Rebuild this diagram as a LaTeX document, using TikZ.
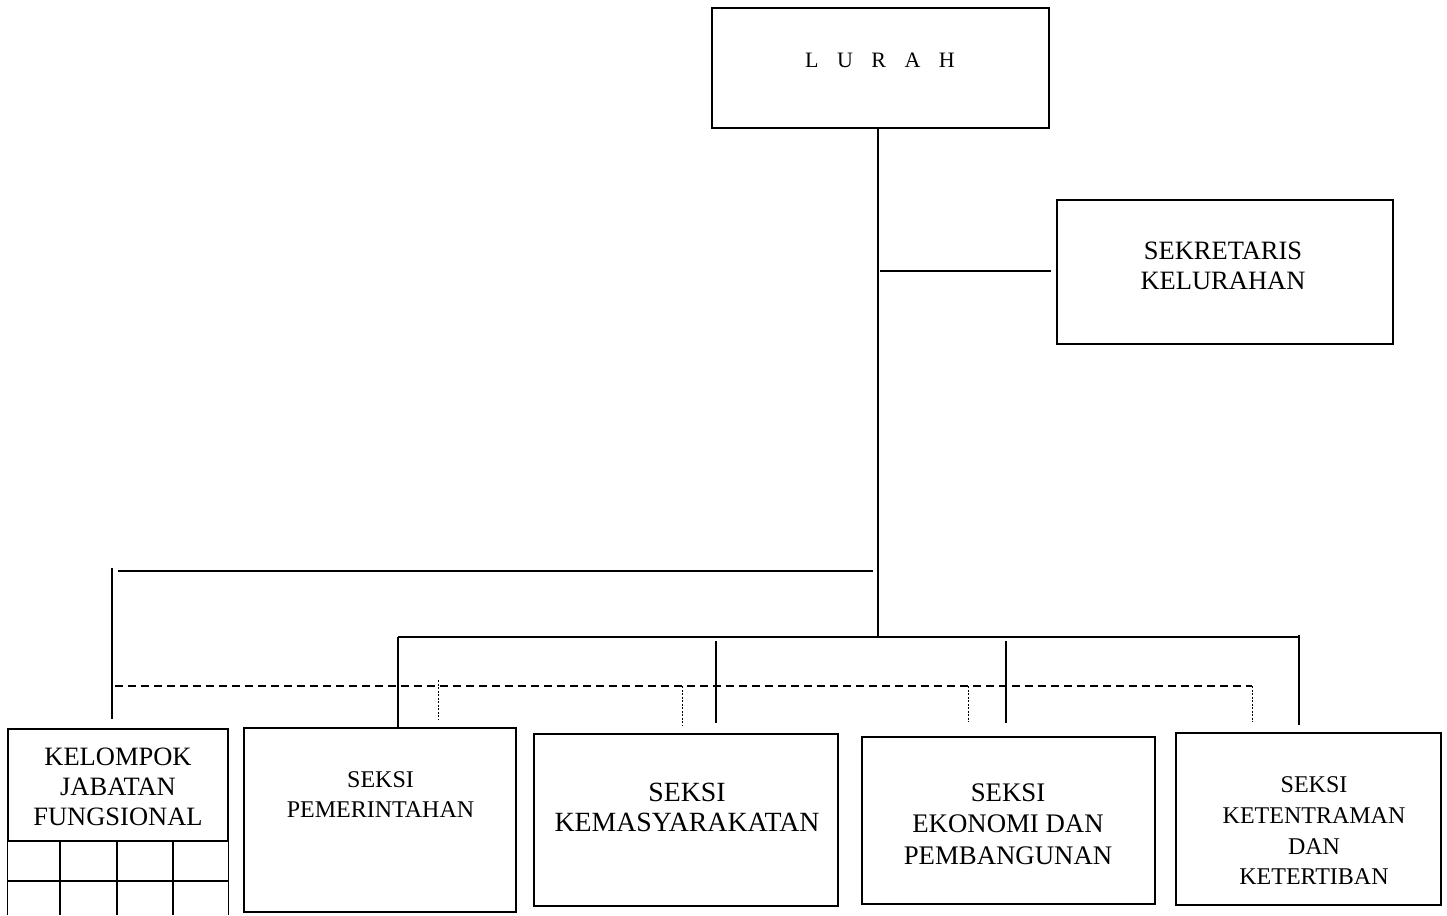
\documentclass[tikz,border=0pt]{standalone}
\usepackage{fontspec}
\setmainfont{Liberation Serif}
\begin{document}
\begin{tikzpicture}[x=1pt,y=-1pt,
  box/.style={draw,line width=1.3pt,rectangle,inner sep=0pt},
  lbl/.style={align=center,inner sep=0pt},
  big/.style={font=\fontsize{26.5}{30}\selectfont},
  mid/.style={font=\fontsize{24}{30}\selectfont},
  conn/.style={line width=1.5pt},
  dashline/.style={line width=1.3pt,dash pattern=on 8pt off 5pt},
  dotline/.style={line width=0.8pt,dash pattern=on 2pt off 1.5pt}]
\useasboundingbox (0,0) rectangle (1447,915);
% boxes
\node[box,minimum width=337pt,minimum height=120pt] (lurah) at (880.5,68) {};
\node[box,minimum width=336pt,minimum height=144pt] (sek) at (1225,272) {};
\node[box,minimum width=220pt,minimum height=112pt] (kel) at (118,785) {};
\node[box,minimum width=272pt,minimum height=184pt] (pem) at (380,820) {};
\node[box,minimum width=304pt,minimum height=172pt] (kem) at (686,820) {};
\node[box,minimum width=293pt,minimum height=167pt] (eko) at (1008.5,820.5) {};
\node[box,minimum width=265pt,minimum height=172pt] (ket) at (1308.5,819) {};
% texts
\node[lbl,font=\fontsize{22}{26}\selectfont] (lurahtxt) at (880,60.5) {L\hspace{18.5pt}U\hspace{18.5pt}R\hspace{18.5pt}A\hspace{18.5pt}H};
\node[lbl,big] (sektxt) at (1223,266) {SEKRETARIS\\KELURAHAN};
\node[lbl,big] (keltxt) at (118,787) {KELOMPOK\\JABATAN\\FUNGSIONAL};
\node[lbl,mid] (pemtxt) at (380.5,795) {SEKSI\\PEMERINTAHAN};
\node[lbl,font=\fontsize{27.8}{30}\selectfont] (kemtxt) at (687,807) {SEKSI\\KEMASYARAKATAN};
\node[lbl,font=\fontsize{26.8}{31.5}\selectfont] (ekotxt) at (1008,824) {SEKSI\\EKONOMI DAN\\PEMBANGUNAN};
\node[lbl,font=\fontsize{24}{30.7}\selectfont] (kettxt) at (1314,831) {SEKSI\\KETENTRAMAN\\DAN\\KETERTIBAN};
% grid below kelompok
\coordinate (gb) at (0,915);
\draw[line width=1.3pt] (kel.south west) -- (kel.south west |- gb);
\draw[line width=1.3pt] (kel.south east) -- (kel.south east |- gb);
\draw[line width=1.3pt] (8,881) -- (228,881);
\foreach \gx in {60,117,173}{\draw[line width=1.3pt] (\gx,841) -- (\gx,915);}
% connectors
\coordinate (j1) at (878,637);
\draw[conn] (lurah.south -| j1) -- (j1);
\coordinate (s0) at (880,271);
\draw[conn,shorten >=5pt] (s0) -- (sek.west |- s0);
\coordinate (k0) at (873,571);
\coordinate (k1) at (118,571);
\draw[conn] (k0) -- (k1);
\coordinate (k2) at (112,568);
\draw[conn,shorten >=9pt] (k2) -- (kel.north -| k2);
\coordinate (b0) at (398,637);
\coordinate (b1) at (1299,637);
\draw[conn] (b0) -- (b1);
\draw[conn] (b0) -- (pem.north -| b0);
\coordinate (v2) at (716,641);
\draw[conn,shorten >=10pt] (v2) -- (kem.north -| v2);
\coordinate (v3) at (1006,641);
\draw[conn,shorten >=13pt] (v3) -- (eko.north -| v3);
\coordinate (v4) at (1299,635);
\draw[conn,shorten >=7pt] (v4) -- (ket.north -| v4);
% dashed and dotted
\coordinate (d0) at (115,686);
\coordinate (d1) at (1252,686);
\draw[dashline] (d0) -- (d1);
\draw[dotline,shorten >=8pt] (438,680) -- (pem.north -| 438,0);
\draw[dotline,shorten >=8pt] (682,686) -- (kem.north -| 682,0);
\draw[dotline,shorten >=14pt] (968,686) -- (eko.north -| 968,0);
\draw[dotline,shorten >=10pt] (d1) -- (ket.north -| d1);
\end{tikzpicture}
\end{document}
